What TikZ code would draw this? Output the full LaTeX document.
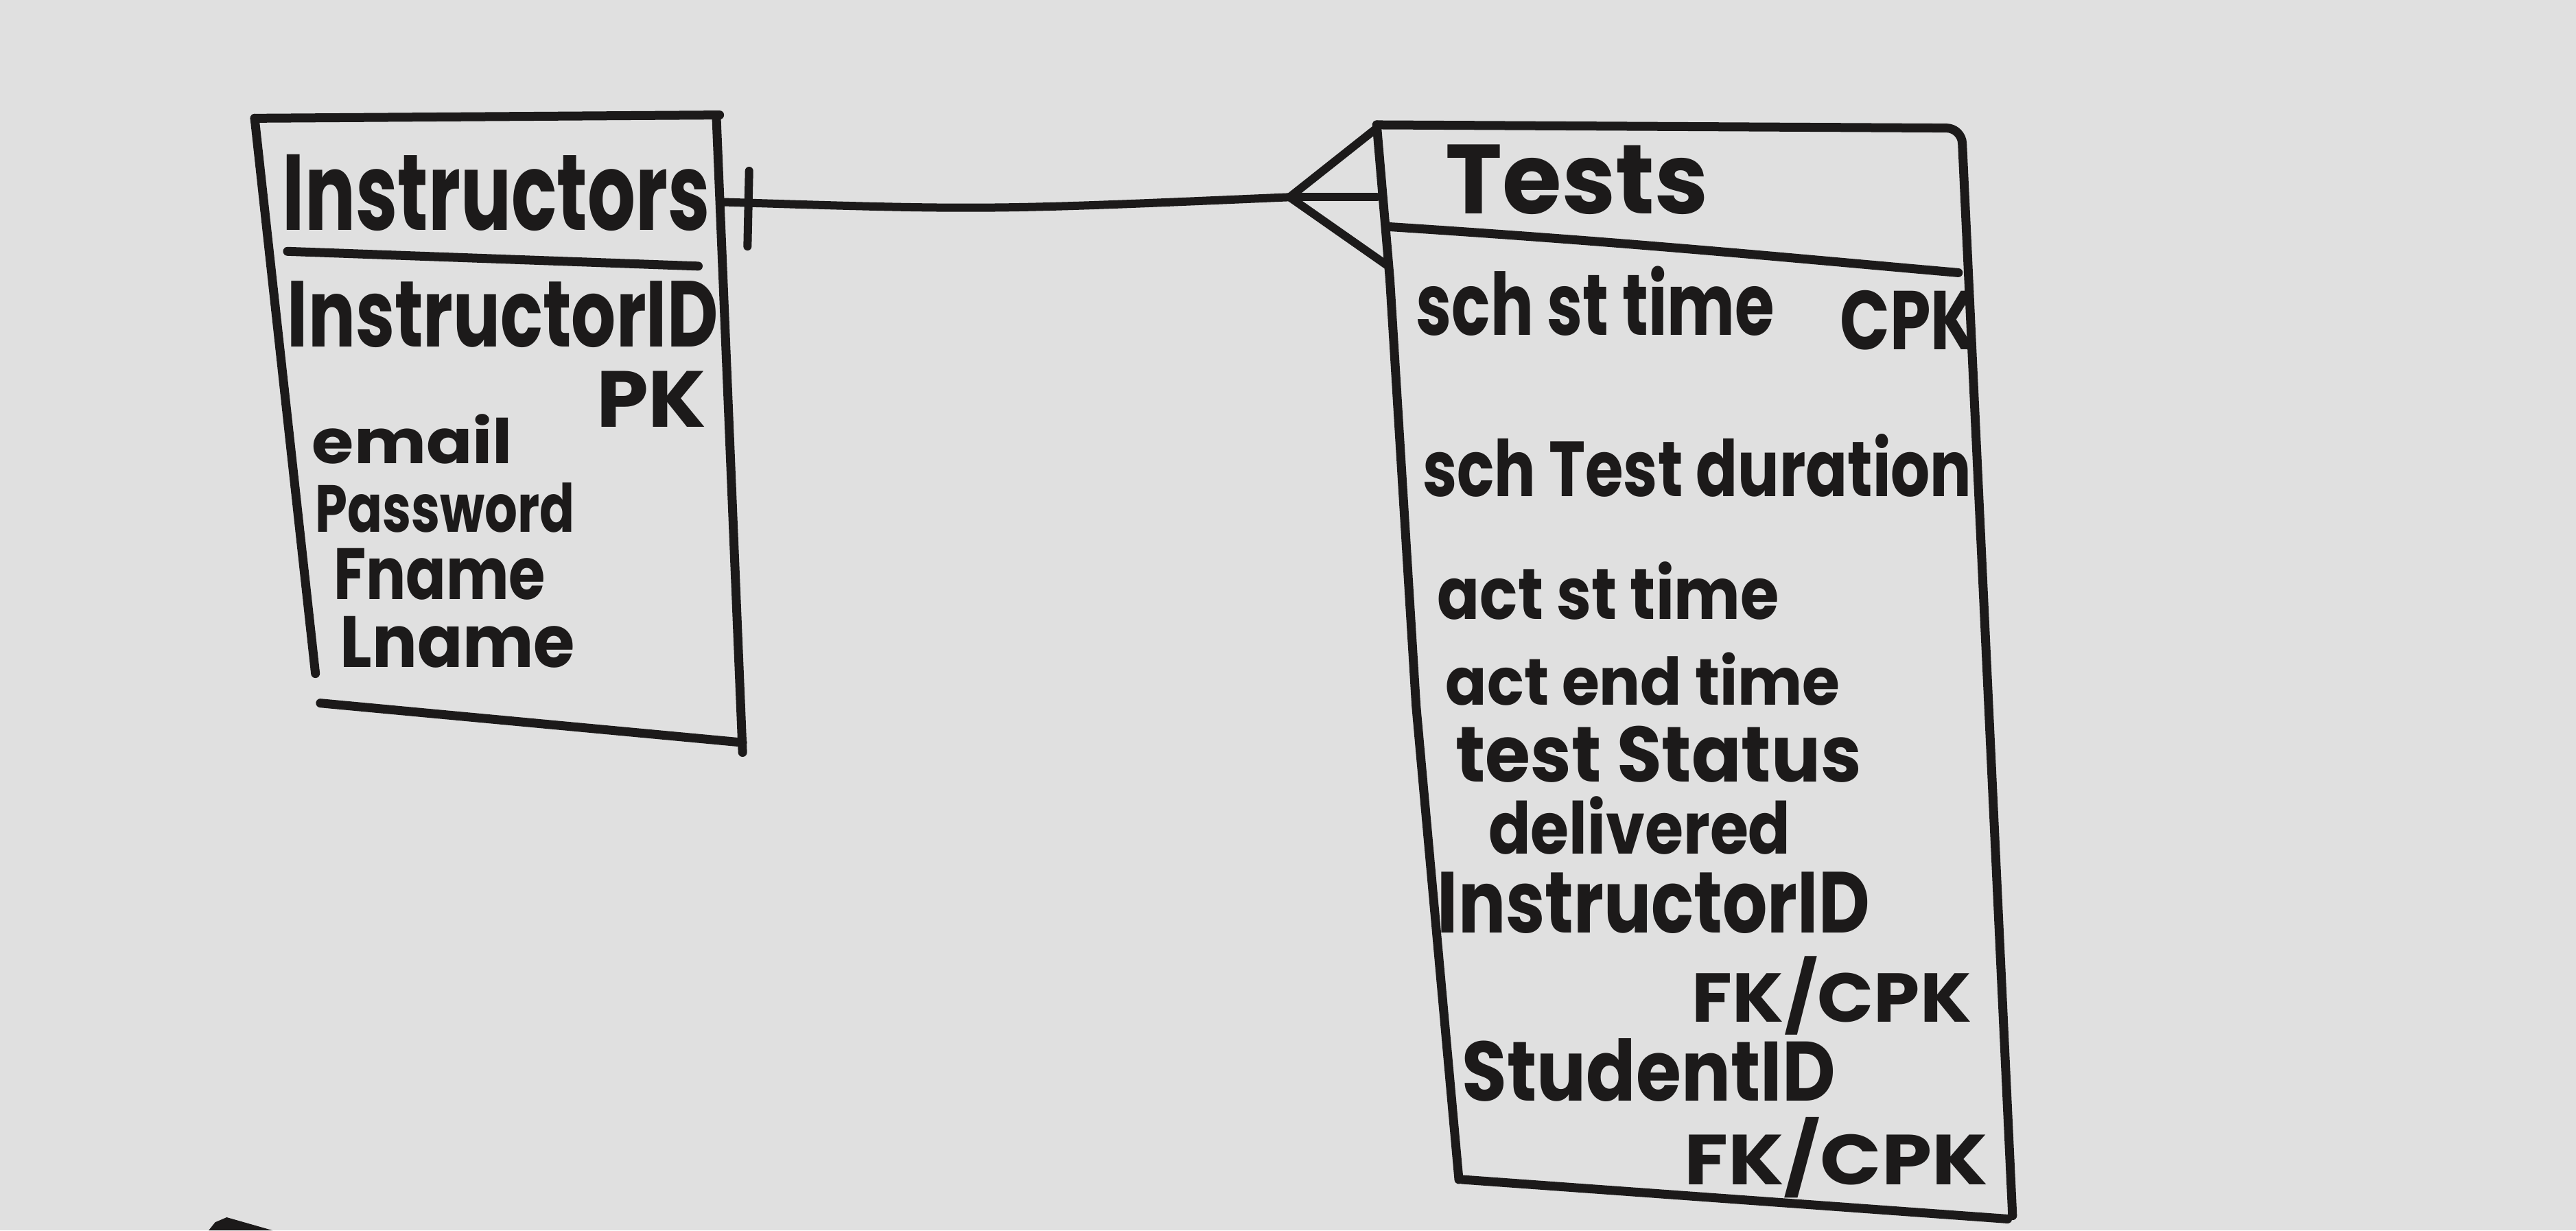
\documentclass[tikz,border=0pt]{standalone}
\usepackage{fontspec}
\setmainfont{Poppins}
\usepackage{graphicx}
\newdimen\su \su=2.394pt
\definecolor{board}{RGB}{224,224,224}
\definecolor{ink}{RGB}{28,26,26}
\newcommand{\hw}[3]{\resizebox{#1\su}{#2\su}{\bfseries #3}}
\begin{document}
\begin{tikzpicture}[x=2.394pt,y=-2.394pt,
  every node/.style={inner sep=0pt, outer sep=0pt, text=ink, anchor=base west},
  boxline/.style={draw=ink, line width=13pt, line cap=round, line join=round},
  relline/.style={draw=ink, line width=12pt, line cap=round, line join=round}]
\fill[board] (0,0) rectangle (1568,749);
\useasboundingbox (0,0) rectangle (1568,749);

% Instructors entity box
\draw[boxline] (155,72) -- (438,70);
\draw[boxline] (155,72) -- (192,410);
\draw[boxline] (436,70) -- (452,458);
\draw[boxline] (195,428) -- (452,452);
\draw[boxline] (175,153) -- (425,162);

% Tests entity box
\draw[boxline, rounded corners=22pt] (838,76) -- (1194,78) -- (1225,740);
\draw[boxline] (838,76) -- (846,170) -- (862,430) -- (888,718);
\draw[boxline] (890,718) -- (1222,742);
\draw[boxline] (845,138) .. controls (1000,148) and (1100,158) .. (1192,166);

% text: Instructors
\node (tI) at (172,140) {\hw{260}{46}{Instructors}};
\node (aI1) at (175,211) {\hw{262}{40}{InstructorID}};
\node (aI2) at (363,260) {\hw{67}{34}{PK}};
\node (aI3) at (190,282) {\hw{122}{30}{email}};
\node (aI4) at (192,324) {\hw{158}{30}{Password}};
\node (aI5) at (203,365) {\hw{129}{31}{Fname}};
\node (aI6) at (207,406) {\hw{143}{31}{Lname}};

% text: Tests
\node (tT) at (880,130) {\hw{160}{42}{Tests}};
\node (aT1) at (862,204) {\hw{218}{42}{sch st time}};
\node (aT1k) at (1120,213) {\hw{83}{36}{CPK}};
\node (aT2) at (866,302) {\hw{334}{38}{sch Test duration}};
\node (aT3) at (875,377) {\hw{208}{35}{act st time}};
\node (aT4) at (880,429) {\hw{240}{32}{act end time}};
\node (aT5) at (886,476) {\hw{247}{34}{test Status}};
\node (aT6) at (906,520) {\hw{184}{35}{delivered}};
\node (aT7) at (875,568) {\hw{263}{37}{InstructorID}};
\node (aT7k) at (1030,622) {\hw{170}{40}{FK/CPK}};
\node (aT8) at (890,670) {\hw{227}{38}{StudentID}};
\node (aT8k) at (1025,721) {\hw{185}{41}{FK/CPK}};

% relationship: one (bar) to many (crow's foot)
\coordinate (iR) at (440,123);
\coordinate (cf) at (785,120);
\coordinate (tTop) at (838,78);
\coordinate (tMid) at (838,120);
\coordinate (tBot) at (845,162);
\coordinate (bar1) at (456,104);
\coordinate (bar2) at (455,150);
\draw[relline] (iR) .. controls (600,128) .. (cf);
\draw[relline] (bar1) -- (bar2);
\draw[relline] (cf) -- (tTop);
\draw[relline] (cf) -- (tMid);
\draw[relline] (cf) -- (tBot);

% stray marker stroke at bottom edge
\fill[ink] (127,749) -- (131,744) -- (138,741) -- (166,749) -- cycle;
\end{tikzpicture}
\end{document}
